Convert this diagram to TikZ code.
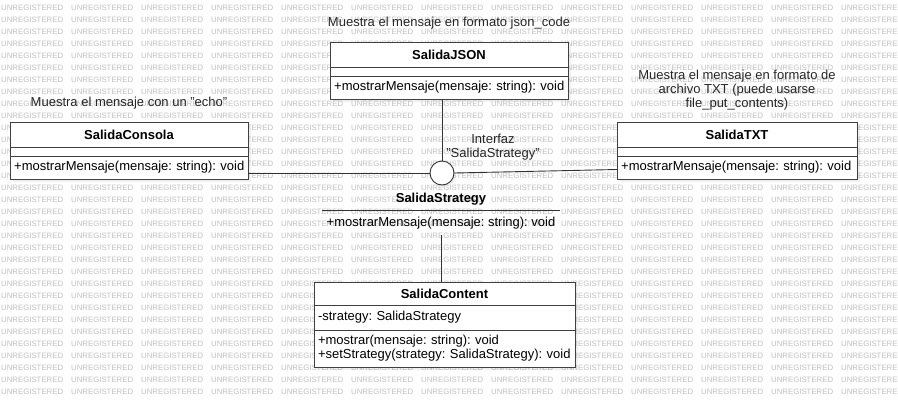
\documentclass[tikz,border=0pt]{standalone}
\usepackage{fontspec}
\setmainfont{Liberation Sans}
\usetikzlibrary{positioning,shadows}
\frenchspacing

\begin{document}
\begin{tikzpicture}[
  x=1pt, y=-1pt,
  font=\fontsize{13}{14}\selectfont,
  part/.style  = {draw=black!75, fill=white, line width=0.9pt, outer sep=0pt,
                  inner sep=0pt, minimum width=#1,
                  drop shadow={shadow xshift=3pt, shadow yshift=-3pt, opacity=0.12}},
  cname/.style = {part=#1, minimum height=25pt, font=\fontsize{13}{14}\selectfont\bfseries},
  catt/.style  = {part=#1, minimum height=9pt},
  cops/.style  = {part=#1, minimum height=23pt, align=left, inner xsep=4pt},
  note/.style  = {align=center, inner sep=0pt, text=black!85},
  link/.style  = {draw=black!80, line width=0.9pt},
  wm/.style    = {font=\fontsize{7.8}{9}\selectfont, text=black!25, inner sep=0pt, anchor=west}
]

% ------------------------------------------------------------ la filigrana --
\useasboundingbox (0,0) rectangle (898,408);
\foreach \r in {0,...,32}
  \foreach \c in {0,...,12}
    \node[wm] (wm-\r-\c) at (\c*70+1, 8+\r*12) {UNREGISTERED};

% ---------------------------------------------------------------- le classi --
\node[cname=238pt] (jsonName) at (449,54.5) {SalidaJSON};
\node[catt=238pt, below=0pt of jsonName]    (jsonAtt) {};
\node[cops=238pt, text width=234pt, inner xsep=2pt, below=0pt of jsonAtt] (jsonOps) {\,+mostrarMensaje(mensaje: string): void};

\node[cname=238pt] (conName) at (129,134.5) {SalidaConsola};
\node[catt=238pt, below=0pt of conName]     (conAtt) {};
\node[cops=238pt, text width=234pt, inner xsep=2pt, below=0pt of conAtt] (conOps) {\,+mostrarMensaje(mensaje: string): void};

\node[cname=240pt] (txtName) at (737,134.5) {SalidaTXT};
\node[catt=240pt, below=0pt of txtName]     (txtAtt) {};
\node[cops=240pt, text width=236pt, inner xsep=2pt, below=0pt of txtAtt] (txtOps) {\,+mostrarMensaje(mensaje: string): void};

\node[cname=261pt, minimum height=23pt] (ctxName) at (444.5,293.5) {SalidaContent};
\node[cops=261pt, text width=253pt, minimum height=25pt,
      below=0pt of ctxName]                 (ctxAtt) {-strategy: SalidaStrategy};
\node[cops=261pt, text width=253pt, minimum height=37pt,
      below=0pt of ctxAtt]                  (ctxOps) {+mostrar(mensaje: string): void\\+setStrategy(strategy: SalidaStrategy): void};

% ---------------------------------------------------------- l'interfaccia --
\node[draw=black!80, line width=0.9pt, fill=white, circle, minimum size=24pt,
      inner sep=0pt, drop shadow={shadow xshift=2pt, shadow yshift=-2pt, opacity=0.12}]
                                            (iface) at (442,173) {};
\node[font=\fontsize{13}{14}\selectfont\bfseries, inner sep=0pt] (stratName) at (441,199) {SalidaStrategy};
\node[minimum width=238pt, minimum height=24pt, inner sep=0pt] (stratBody) at (441,223) {+mostrarMensaje(mensaje: string): void};
\draw[draw=black!80, line width=1.2pt] (stratBody.north west) -- (stratBody.north east);

% ------------------------------------------------------------------- note --
\node[note, above=13pt of jsonName] (jsonNote) {Muestra el mensaje en formato json\_code};
\node[note, above=13pt of conName]  (conNote)  {Muestra el mensaje con un "echo"};
\node[note, above=12pt of txtName]  (txtNote)  {Muestra el mensaje en formato de\\archivo TXT (puede usarse\\file\_put\_contents)};
\node[note] (ifaceNote) at (493,147) {Interfaz\\"SalidaStrategy"};

% ------------------------------------------------------------------- archi --
\draw[link] (iface) -- (iface |- jsonOps.south);
\draw[link] (iface.west) -- (iface.west -| conOps.east);
\draw[link] (iface.east) -- ([yshift=-2pt]txtOps.west);
\draw[link] (stratBody.south) -- (stratBody.south |- ctxName.north);

\end{tikzpicture}
\end{document}
